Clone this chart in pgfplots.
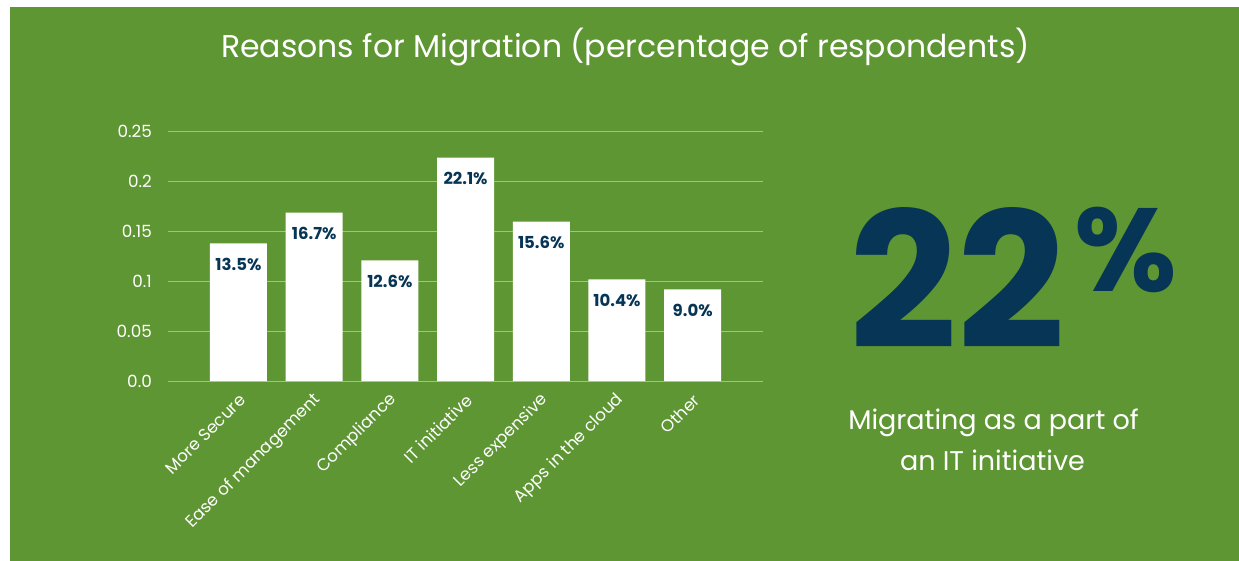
\documentclass[border=0pt]{standalone}
\usepackage{fontspec}
\setmainfont{Poppins}
\usepackage{pgfplots}
\pgfplotsset{compat=1.18}
\definecolor{bggreen}{HTML}{5E9633}
\definecolor{navy}{HTML}{063556}
\definecolor{gridc}{HTML}{A9BC98}
\begin{document}
\begin{tikzpicture}[x=1pt,y=1pt]
\fill[white] (0,0) rectangle (1239,561);
\fill[bggreen] (10,0) rectangle (1239,554);
\node[text=white, font=\fontsize{31.5}{34}\selectfont, anchor=base] at (625.5,503) {Reasons for Migration (percentage of respondents)};
\begin{axis}[
  at={(222,180.3)}, anchor=south west,
  scale only axis, width=595pt, height=249.4pt,
  xmin=-0.93, xmax=6.93, ymin=0, ymax=0.25,
  axis line style={draw=none},
  ymajorgrids, grid style={gridc, line width=1pt},
  major tick length=0pt,
  ytick={0,0.05,0.1,0.15,0.2,0.25},
  yticklabels={0.0,0.05,0.1,0.15,0.2,0.25},
  xtick={0,1,2,3,4,5,6},
  xticklabels={More Secure,Ease of management,Compliance,IT initiative,Less expensive,Apps in the cloud,Other},
  yticklabel style={inner sep=0pt, anchor=east, xshift=-16pt, text=white, font=\fontsize{16.8}{17}\selectfont},
  xticklabel style={inner sep=0pt, xshift=4pt, yshift=-16pt, rotate=45, anchor=east, text=white, font=\fontsize{16.8}{17}\selectfont},
  ybar, bar width=57pt,
  point meta=explicit symbolic,
  nodes near coords,
  nodes near coords style={anchor=center, yshift=-21pt, inner sep=0pt, text=navy, font=\bfseries\fontsize{16.5}{17}\selectfont},
]
\addplot[fill=white, draw=none] coordinates {
  (0,0.138) [13.5\%]
  (1,0.169) [16.7\%]
  (2,0.121) [12.6\%]
  (3,0.224) [22.1\%]
  (4,0.160) [15.6\%]
  (5,0.102) [10.4\%]
  (6,0.092) [9.0\%]
};
\end{axis}
\node[anchor=base west, inner sep=0pt, text=navy, font=\bfseries\fontsize{189}{189}\selectfont] at (849,212) {22};
\node[anchor=north west, inner sep=0pt, text=navy, font=\bfseries\fontsize{118}{118}\selectfont] at (1074,354) {\%};
\node[anchor=base, text=white, font=\fontsize{27}{27}\selectfont] at (993.5,131) {Migrating as a part of};
\node[anchor=base, text=white, font=\fontsize{27}{27}\selectfont] at (992.5,90) {an IT initiative};
\end{tikzpicture}
\end{document}
